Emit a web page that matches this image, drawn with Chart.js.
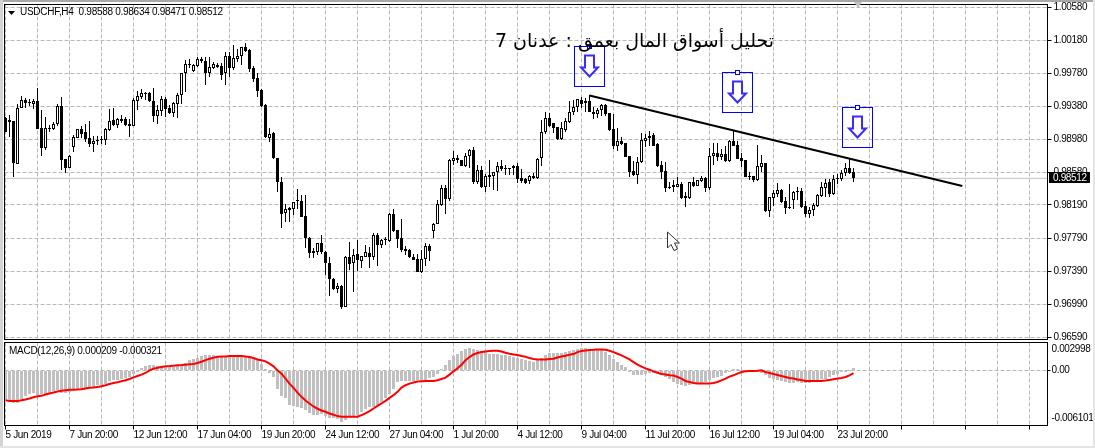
<!DOCTYPE html>
<html lang="en"><head><meta charset="utf-8"><title>USDCHF,H4</title>
<script src="https://cdn.jsdelivr.net/npm/chart.js@4"></script>
<style>
html,body{margin:0;padding:0;background:#fff;overflow:hidden;width:1095px;height:448px}
canvas{position:absolute;left:0}
.t{position:absolute;white-space:nowrap;color:#000;font-family:"Liberation Sans",sans-serif;font-size:10px;line-height:12px;letter-spacing:-.28px}
#ar{position:absolute;right:321px;top:25px;direction:rtl;white-space:nowrap;color:#000;font-family:"DejaVu Sans",serif;font-size:19px;line-height:30px}
.edge{position:absolute;background:#c8c8c8}
svg{position:absolute;left:0;top:0}
</style></head><body>
<canvas id="c1" width="1095" height="341" style="top:0"></canvas>
<canvas id="c2" width="1095" height="107" style="top:341px"></canvas>
<div class="edge" style="left:0;top:0;width:1095px;height:2px;background:#a8a8a8"></div>
<div class="edge" style="left:0;top:0;width:3px;height:448px;background:#d4d4d4"></div>
<div class="edge" style="left:0;top:446px;width:1095px;height:2px;background:#e4e4e4"></div>
<div class="edge" style="left:1093px;top:0;width:2px;height:448px;background:#e4e4e4"></div>
<svg width="1095" height="448">
<polygon points="8,11 15,11 11.5,15" fill="#000"/>
<polygon points="854,2 862,2 858,8" fill="#c0c0c0"/>
<polygon points="667.5,232 667.5,248 671,244.5 674,250.5 677.5,249 674.5,243 679.5,243" fill="#fff" stroke="#333" stroke-width="1"/>
</svg>
<div class="t" style="left:20px;top:6px">USDCHF,H4&nbsp; 0.98588 0.98634 0.98471 0.98512</div>
<div class="t" style="left:9px;top:345px">MACD(12,26,9) 0.000209 -0.000321</div>
<div id="ar">تحليل أسواق المال بعمق : عدنان 7</div>
<script>
const opens=[0.99237,0.99217,0.99205,0.98681,0.99358,0.99455,0.99435,0.99411,0.99447,0.99116,
0.98883,0.99112,0.99108,0.99169,0.99386,0.98746,0.98641,0.98895,0.99004,0.99104,
0.99068,0.98996,0.98931,0.98975,0.98979,0.98975,0.99100,0.99213,0.99161,0.99225,
0.99233,0.99169,0.99149,0.99451,0.99495,0.99532,0.99544,0.99447,0.99270,0.99330,
0.99475,0.99366,0.99306,0.99415,0.99515,0.99781,0.99886,0.99814,0.99870,0.99951,
0.99931,0.99789,0.99846,0.99882,0.99870,0.99781,0.99991,0.99850,0.99955,0.99995,
1.00096,1.00064,0.99846,0.99725,0.99580,0.99395,0.99004,0.99056,0.98753,0.98463,
0.98088,0.98149,0.98137,0.98233,0.98237,0.98056,0.97790,0.97629,0.97625,0.97726,
0.97625,0.97484,0.97290,0.97169,0.97210,0.96960,0.97556,0.97484,0.97593,0.97516,
0.97564,0.97605,0.97564,0.97822,0.97705,0.97782,0.97758,0.98080,0.97883,0.97786,
0.97653,0.97641,0.97560,0.97532,0.97383,0.97532,0.97693,0.97879,0.97955,0.98189,
0.98391,0.98258,0.98721,0.98754,0.98733,0.98665,0.98778,0.98854,0.98471,0.98612,
0.98407,0.98528,0.98544,0.98585,0.98661,0.98637,0.98625,0.98633,0.98661,0.98512,
0.98500,0.98479,0.98544,0.98512,0.98754,0.99076,0.99238,0.99177,0.99136,0.98987,
0.99096,0.99196,0.99317,0.99371,0.99459,0.99419,0.99447,0.99317,0.99286,0.99334,
0.99398,0.99302,0.99108,0.98906,0.98963,0.98935,0.98782,0.98600,0.98552,0.98706,
0.98967,0.98996,0.99036,0.98927,0.98669,0.98600,0.98407,0.98428,0.98411,0.98447,
0.98298,0.98270,0.98464,0.98423,0.98479,0.98512,0.98399,0.98778,0.98815,0.98766,
0.98802,0.98725,0.98959,0.98911,0.98761,0.98733,0.98540,0.98540,0.98492,0.98653,
0.98701,0.98120,0.98274,0.98322,0.98371,0.98238,0.98165,0.98250,0.98362,0.98362,
0.98177,0.98080,0.98129,0.98177,0.98302,0.98399,0.98467,0.98322,0.98516,0.98507,
0.98572,0.98637,0.98588];
const highs=[0.99249,0.99278,0.99205,0.99407,0.99507,0.99479,0.99475,0.99475,0.99600,0.99338,
0.99249,0.99157,0.99193,0.99411,0.99491,0.98746,0.98794,0.99036,0.99104,0.99145,
0.99169,0.99205,0.99024,0.99024,0.99024,0.99116,0.99346,0.99358,0.99237,0.99278,
0.99249,0.99225,0.99479,0.99572,0.99588,0.99560,0.99560,0.99600,0.99399,0.99511,
0.99491,0.99399,0.99439,0.99540,0.99789,0.99943,0.99951,0.99894,0.99983,0.99975,
0.99983,0.99983,0.99914,0.99910,0.99902,1.00043,1.00043,1.00124,1.00072,1.00104,
1.00152,1.00072,0.99870,0.99781,0.99588,0.99407,0.99124,0.99072,0.98753,0.98524,
0.98201,0.98169,0.98229,0.98378,0.98310,0.98310,0.97798,0.97665,0.97726,0.97826,
0.97633,0.97556,0.97302,0.97242,0.97222,0.97572,0.97738,0.97653,0.97766,0.97572,
0.97705,0.97677,0.97847,0.97847,0.97774,0.97798,0.98096,0.98137,0.97887,0.98020,
0.97693,0.97653,0.97597,0.97597,0.97645,0.97726,0.97713,0.97967,0.98250,0.98431,
0.98431,0.98741,0.98842,0.98794,0.98733,0.98818,0.98866,0.98891,0.98673,0.98661,
0.98564,0.98733,0.98588,0.98709,0.98733,0.98673,0.98640,0.98673,0.98697,0.98625,
0.98516,0.98552,0.98573,0.98754,0.99217,0.99310,0.99298,0.99181,0.99136,0.99193,
0.99241,0.99447,0.99459,0.99471,0.99495,0.99487,0.99519,0.99374,0.99358,0.99407,
0.99407,0.99302,0.99286,0.99117,0.99012,0.98935,0.98782,0.98721,0.98773,0.99056,
0.99044,0.99084,0.99064,0.98935,0.98721,0.98706,0.98471,0.98492,0.98524,0.98464,
0.98350,0.98471,0.98532,0.98495,0.98540,0.98532,0.98875,0.98935,0.98935,0.98866,
0.98903,0.98975,0.99096,0.98967,0.98815,0.98733,0.98592,0.98540,0.98915,0.98794,
0.98701,0.98282,0.98371,0.98459,0.98379,0.98282,0.98440,0.98362,0.98411,0.98391,
0.98241,0.98161,0.98210,0.98322,0.98471,0.98507,0.98500,0.98552,0.98564,0.98612,
0.98693,0.98742,0.98634];
const lows=[0.99068,0.99016,0.98532,0.98681,0.99358,0.99358,0.99386,0.99346,0.99108,0.98782,
0.98854,0.99076,0.99096,0.99145,0.98613,0.98580,0.98633,0.98834,0.99004,0.98996,
0.98955,0.98895,0.98834,0.98915,0.98927,0.98915,0.99084,0.99145,0.99116,0.99185,
0.99145,0.99016,0.99145,0.99338,0.99475,0.99459,0.99439,0.99197,0.99169,0.99266,
0.99258,0.99290,0.99258,0.99245,0.99411,0.99560,0.99842,0.99802,0.99862,0.99910,
0.99640,0.99741,0.99830,0.99842,0.99701,0.99640,0.99733,0.99822,0.99922,0.99882,
1.00043,0.99802,0.99681,0.99491,0.99378,0.99000,0.98955,0.98742,0.98350,0.97915,
0.97988,0.97988,0.98068,0.98137,0.98048,0.97673,0.97544,0.97544,0.97585,0.97597,
0.97343,0.97093,0.97161,0.97129,0.96936,0.96960,0.97403,0.97141,0.97395,0.97423,
0.97556,0.97431,0.97524,0.97456,0.97665,0.97705,0.97746,0.97867,0.97673,0.97625,
0.97585,0.97544,0.97524,0.97379,0.97371,0.97456,0.97512,0.97786,0.97955,0.98177,
0.98080,0.98241,0.98673,0.98697,0.98661,0.98649,0.98633,0.98443,0.98443,0.98395,
0.98346,0.98407,0.98371,0.98359,0.98600,0.98552,0.98552,0.98552,0.98455,0.98455,
0.98449,0.98447,0.98504,0.98504,0.98665,0.99048,0.99136,0.99064,0.98975,0.98975,
0.99076,0.99181,0.99277,0.99310,0.99366,0.99310,0.99310,0.99229,0.99238,0.99269,
0.99269,0.99088,0.98866,0.98846,0.98915,0.98766,0.98532,0.98544,0.98447,0.98694,
0.98894,0.98903,0.98899,0.98652,0.98504,0.98350,0.98383,0.98350,0.98403,0.98258,
0.98169,0.98262,0.98411,0.98419,0.98464,0.98343,0.98371,0.98673,0.98725,0.98733,
0.98713,0.98713,0.98903,0.98742,0.98652,0.98524,0.98492,0.98471,0.98483,0.98592,
0.98108,0.98048,0.98177,0.98282,0.98217,0.98077,0.98137,0.98137,0.98250,0.98157,
0.98040,0.98032,0.98056,0.98169,0.98282,0.98290,0.98282,0.98314,0.98443,0.98483,
0.98540,0.98564,0.98471];
const closes=[0.99076,0.99197,0.98693,0.99358,0.99459,0.99427,0.99419,0.99447,0.99108,0.98883,
0.99116,0.99120,0.99169,0.99386,0.98734,0.98633,0.98782,0.99008,0.99104,0.99048,
0.98987,0.98927,0.98963,0.98963,0.98971,0.99108,0.99209,0.99157,0.99229,0.99209,
0.99157,0.99149,0.99459,0.99503,0.99540,0.99544,0.99447,0.99266,0.99338,0.99471,
0.99354,0.99306,0.99419,0.99515,0.99781,0.99890,0.99878,0.99882,0.99951,0.99926,
0.99781,0.99854,0.99890,0.99862,0.99761,0.99991,0.99842,0.99963,0.99995,1.00096,
1.00055,0.99834,0.99717,0.99572,0.99386,0.99008,0.99044,0.98754,0.98463,0.98076,
0.98137,0.98129,0.98229,0.98241,0.98048,0.97786,0.97613,0.97613,0.97726,0.97625,
0.97484,0.97290,0.97173,0.97210,0.96960,0.97560,0.97480,0.97589,0.97524,0.97568,
0.97617,0.97564,0.97826,0.97709,0.97762,0.97766,0.98080,0.97875,0.97782,0.97645,
0.97637,0.97556,0.97528,0.97383,0.97532,0.97689,0.97637,0.97959,0.98197,0.98391,
0.98266,0.98733,0.98754,0.98730,0.98665,0.98778,0.98854,0.98471,0.98612,0.98407,
0.98540,0.98552,0.98585,0.98661,0.98625,0.98625,0.98637,0.98661,0.98504,0.98479,
0.98455,0.98540,0.98512,0.98746,0.99072,0.99238,0.99148,0.99124,0.98987,0.99117,
0.99205,0.99317,0.99374,0.99471,0.99411,0.99447,0.99317,0.99290,0.99334,0.99398,
0.99286,0.99096,0.98906,0.98963,0.98930,0.98773,0.98592,0.98552,0.98706,0.98975,
0.98996,0.99027,0.98906,0.98661,0.98592,0.98399,0.98395,0.98411,0.98443,0.98270,
0.98274,0.98464,0.98419,0.98488,0.98512,0.98399,0.98782,0.98815,0.98766,0.98802,
0.98725,0.98967,0.98906,0.98749,0.98725,0.98532,0.98528,0.98492,0.98661,0.98693,
0.98120,0.98282,0.98331,0.98371,0.98229,0.98157,0.98153,0.98347,0.98343,0.98162,
0.98080,0.98129,0.98189,0.98307,0.98403,0.98459,0.98322,0.98500,0.98500,0.98580,
0.98637,0.98580,0.98512];
const macdHist=[-0.00329,-0.00347,-0.00365,-0.00365,-0.00318,-0.00285,-0.00266,-0.00248,-0.00274,-0.00256,
-0.00256,-0.00245,-0.00230,-0.00219,-0.00245,-0.00248,-0.00237,-0.00219,-0.00201,-0.00201,
-0.00193,-0.00183,-0.00183,-0.00164,-0.00157,-0.00146,-0.00120,-0.00110,-0.00102,-0.00091,
-0.00080,-0.00073,-0.00037,-0.00011,0.00026,0.00047,0.00062,0.00055,0.00047,0.00047,
0.00044,0.00044,0.00037,0.00047,0.00062,0.00084,0.00110,0.00120,0.00135,0.00157,
0.00164,0.00164,0.00164,0.00157,0.00146,0.00157,0.00146,0.00146,0.00153,0.00157,
0.00157,0.00142,0.00128,0.00110,0.00073,0.00018,-0.00026,-0.00073,-0.00201,-0.00281,
-0.00310,-0.00383,-0.00394,-0.00402,-0.00412,-0.00438,-0.00475,-0.00493,-0.00493,-0.00485,
-0.00504,-0.00522,-0.00529,-0.00537,-0.00566,-0.00548,-0.00511,-0.00511,-0.00493,-0.00456,
-0.00427,-0.00402,-0.00402,-0.00383,-0.00347,-0.00310,-0.00266,-0.00201,-0.00128,-0.00120,
-0.00117,-0.00117,-0.00117,-0.00110,-0.00106,-0.00102,-0.00084,-0.00073,-0.00037,0.00018,
0.00055,0.00110,0.00157,0.00183,0.00212,0.00237,0.00248,0.00237,0.00226,0.00208,
0.00201,0.00183,0.00175,0.00175,0.00172,0.00164,0.00157,0.00146,0.00135,0.00120,
0.00110,0.00099,0.00091,0.00110,0.00135,0.00164,0.00190,0.00193,0.00193,0.00193,
0.00201,0.00208,0.00219,0.00237,0.00248,0.00245,0.00237,0.00230,0.00230,0.00219,
0.00201,0.00172,0.00128,0.00091,0.00055,0.00037,-0.00011,-0.00047,-0.00055,-0.00055,
-0.00037,-0.00026,-0.00026,-0.00037,-0.00047,-0.00073,-0.00099,-0.00128,-0.00146,-0.00164,
-0.00172,-0.00164,-0.00146,-0.00139,-0.00139,-0.00128,-0.00110,-0.00084,-0.00073,-0.00062,
-0.00026,-0.00007,0.00018,0.00018,0.00007,-0.00011,-0.00011,-0.00011,-0.00018,-0.00026,
-0.00055,-0.00080,-0.00091,-0.00102,-0.00117,-0.00128,-0.00135,-0.00135,-0.00128,-0.00135,
-0.00135,-0.00135,-0.00128,-0.00117,-0.00099,-0.00091,-0.00073,-0.00055,-0.00037,-0.00018,
-0.00007,0.00007,0.00021];
const macdSignal=[-0.00329,-0.00339,-0.00339,-0.00339,-0.00329,-0.00321,-0.00310,-0.00296,-0.00285,-0.00281,
-0.00266,-0.00256,-0.00245,-0.00234,-0.00226,-0.00219,-0.00215,-0.00215,-0.00212,-0.00208,
-0.00201,-0.00193,-0.00190,-0.00183,-0.00175,-0.00164,-0.00150,-0.00139,-0.00131,-0.00120,
-0.00110,-0.00095,-0.00077,-0.00062,-0.00047,-0.00029,0.00000,0.00018,0.00029,0.00037,
0.00044,0.00047,0.00051,0.00055,0.00058,0.00062,0.00066,0.00069,0.00080,0.00095,
0.00113,0.00128,0.00139,0.00150,0.00153,0.00153,0.00157,0.00157,0.00157,0.00157,
0.00153,0.00146,0.00135,0.00120,0.00110,0.00099,0.00073,0.00044,0.00000,-0.00037,
-0.00091,-0.00146,-0.00193,-0.00245,-0.00292,-0.00332,-0.00365,-0.00398,-0.00423,-0.00442,
-0.00456,-0.00475,-0.00489,-0.00504,-0.00511,-0.00511,-0.00511,-0.00511,-0.00511,-0.00493,
-0.00475,-0.00449,-0.00420,-0.00391,-0.00365,-0.00336,-0.00303,-0.00274,-0.00237,-0.00190,
-0.00164,-0.00146,-0.00135,-0.00124,-0.00120,-0.00117,-0.00117,-0.00117,-0.00110,-0.00095,
-0.00080,-0.00047,-0.00011,0.00022,0.00062,0.00110,0.00146,0.00175,0.00190,0.00201,
0.00208,0.00212,0.00215,0.00215,0.00208,0.00193,0.00183,0.00175,0.00168,0.00157,
0.00150,0.00135,0.00124,0.00120,0.00120,0.00120,0.00124,0.00128,0.00142,0.00153,
0.00161,0.00172,0.00179,0.00201,0.00212,0.00219,0.00223,0.00226,0.00230,0.00230,
0.00226,0.00215,0.00201,0.00183,0.00164,0.00142,0.00120,0.00091,0.00062,0.00040,
0.00022,0.00007,-0.00011,-0.00026,-0.00040,-0.00047,-0.00055,-0.00058,-0.00073,-0.00091,
-0.00117,-0.00128,-0.00139,-0.00146,-0.00146,-0.00146,-0.00146,-0.00139,-0.00128,-0.00110,
-0.00091,-0.00069,-0.00055,-0.00037,-0.00018,-0.00011,-0.00007,-0.00007,-0.00004,0.00000,
-0.00018,-0.00029,-0.00040,-0.00051,-0.00062,-0.00073,-0.00084,-0.00091,-0.00102,-0.00106,
-0.00117,-0.00117,-0.00117,-0.00117,-0.00117,-0.00113,-0.00106,-0.00099,-0.00091,-0.00084,
-0.00073,-0.00055,-0.00032];
const priceTickLabels=['1.00580','1.00180','0.99780','0.99380','0.98980','0.98580','0.98190','0.97790','0.97390','0.96990','0.96590'];
const timeLabels=['5 Jun 2019','7 Jun 20:00','12 Jun 12:00','17 Jun 04:00','19 Jun 20:00','24 Jun 12:00','27 Jun 04:00','1 Jul 20:00','4 Jul 12:00','9 Jul 04:00','11 Jul 20:00','16 Jul 12:00','19 Jul 04:00','23 Jul 20:00'];
const macdTickLabels=['0.002998','0.00','-0.006101'];
const macdTickValues=[0.0023,0,-0.00533];
const trendBars=[146,239.2];
const trendPrices=[0.99514,0.98419];
const arrowBars=[146,183,213];
const arrowPrices=[1.00112,0.99794,0.99371];

const GRID='#b8b8b8', FONT={family:'"Liberation Sans",sans-serif',size:10}, DASH=[4,2];
const LAB=16, GSTEP=8, XMIN=-0.25, XMAX=260.5;
const gridTicks=[];for(let i=0;i<=256;i+=GSTEP)gridTicks.push({value:i});
const idx=opens.map((_,i)=>i);

const snapBars={id:'snapBars',afterDatasetsUpdate(c){
  c.getSortedVisibleDatasetMetas().forEach(m=>{if(m.type!=='bar')return;
    m.data.forEach(e=>{let a=Math.round(e.y),b=Math.round(e.base);if(a===b)b=a+1;e.y=a;e.base=b;e.height=b-a;});});
},beforeDraw(c){c.ctx.letterSpacing='-0.35px';}};
const frame={id:'frame',afterDraw(c){const a=c.chartArea,x=c.ctx;x.save();x.strokeStyle='#000';x.lineWidth=1;
  x.strokeRect(a.left,a.top,a.right-a.left,a.bottom-a.top);x.restore();}};
const markers={id:'markers',afterDraw(c){
  const x=c.ctx,sx=c.scales.x,sy=c.scales.y;x.save();
  arrowBars.forEach((b,i)=>{
    const cx=Math.round(sx.getPixelForValue(b))-0.5,t=Math.round(sy.getPixelForValue(arrowPrices[i]))+0.5;
    x.strokeStyle='#0000ff';x.lineWidth=1;x.strokeRect(cx-15,t,30,40);
    x.fillStyle='#fff';x.fillRect(cx-2,t-2,4,4);x.strokeRect(cx-2,t-2,4,4);
    x.beginPath();x.moveTo(cx-4.5,t+9);x.lineTo(cx+4.5,t+9);x.lineTo(cx+4.5,t+21);x.lineTo(cx+8.5,t+21);
    x.lineTo(cx,t+30);x.lineTo(cx-8.5,t+21);x.lineTo(cx-4.5,t+21);x.closePath();
    x.fillStyle='#fff';x.fill();x.lineWidth=2;x.strokeStyle='#3a2bff';x.stroke();
  });
  const last=closes[closes.length-1],y=Math.round(sy.getPixelForValue(last));
  x.fillStyle='#000';x.fillRect(1049,y-6,41,11);
  x.fillStyle='#fff';x.font='10px "Liberation Sans",sans-serif';x.textBaseline='middle';x.textAlign='left';x.fillText(last.toFixed(5),1053,y);
  x.restore();}};
function xScale(show){return{type:'linear',min:XMIN,max:XMAX,offset:false,
  afterBuildTicks(s){s.ticks=gridTicks.map(t=>({value:t.value}));},
  afterFit(s){s.height=show?22.5:0;s.paddingLeft=0;s.paddingRight=0;},
  border:{display:false,dash:DASH},
  grid:{offset:false,color:GRID,lineWidth:1,drawTicks:show,tickLength:4,tickBorderDash:[],
    tickColor:c=>c.tick&&c.tick.value%LAB===0?'#000':'rgba(0,0,0,0)'},
  ticks:{display:show,autoSkip:false,maxRotation:0,minRotation:0,align:'start',padding:0,color:'#000',font:FONT,
    callback:v=>v%LAB===0?(timeLabels[v/LAB]||''):''}};}

new Chart(document.getElementById('c1'),{type:'bar',plugins:[snapBars,markers,frame],
 data:{datasets:[
  {type:'line',order:0,data:trendBars.map((b,i)=>({x:b,y:trendPrices[i]})),borderColor:'#000',borderWidth:2,pointRadius:0},
  {order:1,data:idx.map(i=>({x:i,y:[opens[i],closes[i]]})),barThickness:3,grouped:false,minBarLength:1,inflateAmount:0,
   backgroundColor:idx.map(i=>closes[i]>=opens[i]?'#fff':'#000'),borderColor:'#000',borderWidth:1,borderSkipped:false},
  {order:2,data:idx.map(i=>({x:i,y:[lows[i],highs[i]]})),barThickness:1,grouped:false,inflateAmount:0,backgroundColor:'#000',borderWidth:0},
  {type:'line',order:3,data:[{x:XMIN,y:closes[212]},{x:XMAX,y:closes[212]}],borderColor:'#c0c0c0',borderWidth:1,pointRadius:0}
 ]},
 options:{responsive:false,animation:false,events:[],devicePixelRatio:1,
  layout:{padding:{left:4.5,right:0,top:4.5,bottom:1.5}},
  plugins:{legend:{display:false},tooltip:{enabled:false},title:{display:false}},
  scales:{x:xScale(false),
   y:{position:'right',min:0.96563,max:1.00614,
    afterBuildTicks(s){s.ticks=priceTickLabels.map(l=>({value:+l}));},
    afterFit(s){s.width=47.5;s.paddingTop=0;s.paddingBottom=0;},
    border:{display:false,dash:DASH},
    grid:{color:GRID,tickBorderDash:[],tickColor:'#000',tickLength:4,drawTicks:true},
    ticks:{autoSkip:false,padding:2,color:'#000',font:FONT,callback:v=>v.toFixed(5)}}}}});

new Chart(document.getElementById('c2'),{type:'bar',plugins:[snapBars,frame],
 data:{datasets:[
  {type:'line',order:0,data:idx.map(i=>({x:i,y:macdSignal[i]})),borderColor:'#ff0000',borderWidth:2,pointRadius:0,tension:0},
  {order:1,data:idx.map(i=>({x:i,y:macdHist[i]})),barThickness:3,grouped:false,inflateAmount:0,backgroundColor:'#c0c0c0',borderWidth:0}
 ]},
 options:{responsive:false,animation:false,events:[],devicePixelRatio:1,
  layout:{padding:{left:4.5,right:0,top:1.5,bottom:0}},
  plugins:{legend:{display:false},tooltip:{enabled:false},title:{display:false}},
  scales:{x:xScale(true),
   y:{position:'right',min:-0.006077,max:0.003066,
    afterBuildTicks(s){s.ticks=macdTickValues.map(v=>({value:v}));},
    afterFit(s){s.width=47.5;s.paddingTop=0;s.paddingBottom=0;},
    border:{display:false,dash:DASH},
    grid:{color:c=>c.tick&&c.tick.value===0?GRID:'rgba(0,0,0,0)',tickBorderDash:[],tickLength:3,
      tickColor:c=>c.tick&&c.tick.value===0?'#000':'rgba(0,0,0,0)'},
    ticks:{autoSkip:false,padding:1,color:'#000',font:FONT,
      callback:v=>macdTickLabels[macdTickValues.indexOf(v)]}}}}});
</script></body></html>
